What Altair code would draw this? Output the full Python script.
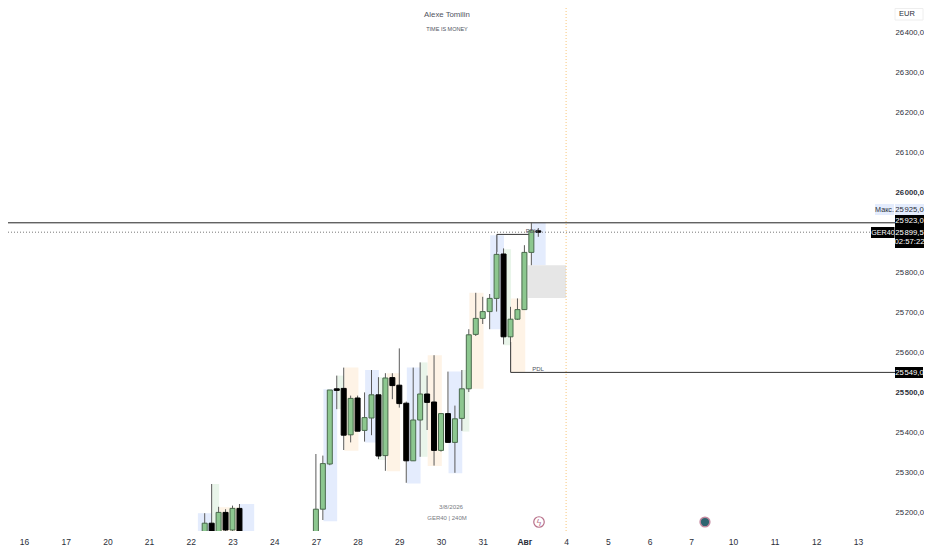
import altair as alt
import pandas as pd

FONT = "Liberation Sans"
day_labels = ["16","17","20","21","22","23","24","27","28","29","30","31","Авг","4","5","6","7","10","11","12","13"]
price_ticks = [26400,26300,26200,26100,26000,25800,25700,25600,25500,25400,25300,25200]

candle_x = [4+2/6,4+3/6,4+4/6,4+5/6,5,5+1/6] + [7+k/6 for k in range(33)]
opens = [25130,25172,25130,25199,25155,25209,25130,25207,25320,25508,25509,25393,25485,25404,25435,25493,25341,
         25536,25517,25472,25328,25430,25495,25475,25354,25446,25374,25434,25508,25644,25684,25701,25734,25845,25638,25682,25706,25849,25903]
closes = [25172,25120,25199,25155,25209,25130,25207,25321,25505,25504,25392,25484,25402,25436,25493,25340,25535,
          25516,25471,25328,25430,25495,25474,25354,25446,25374,25433,25508,25643,25684,25701,25734,25844,25638,25682,25706,25849,25903,25899.5]
highs = [25197,25270,25213,25207,25216,25220,25345,25341,25505,25541,25561,25491,25491,25499,25555,25537,25547,
         25547,25609,25476,25561,25574,25541,25592,25447,25551,25466,25555,25657,25748,25738,25745,25850,25859,25713,25734,25867,25925,25910]
lows = [25100,25100,25110,25140,25145,25120,25100,25180,25317,25457,25355,25374,25402,25376,25392,25332,25303,
        25482,25461,25273,25328,25338,25405,25316,25351,25374,25298,25403,25500,25640,25670,25657,25701,25619,25625,25680,25706,25817,25888]

zone_x0 = [4.17,4.51,4.68,5.18,7.18,7.51,7.68,8.18,8.51,8.70,9.18,9.51,9.68,10.18,10.51,10.68,11.18,11.51,11.68,12.18,12.09]
zone_x1 = [4.51,4.68,5.18,5.52,7.51,7.68,8.02,8.51,8.68,9.02,9.51,9.68,10.02,10.51,10.68,11.02,11.51,11.68,12.02,12.51,13.0]
zone_top = [25197,25270,25212,25220,25507,25541,25561,25555,25537,25547,25561,25574,25592,25551,25555,25748,25892,25857,25734,25923,25817]
zone_bot = [25100,25100,25100,25100,25177,25457,25353,25374,25330,25302,25271,25338,25315,25297,25401,25508,25657,25617,25550,25817,25735]
zone_kind = ["b","g","o","b","b","g","o","b","g","o","b","g","o","b","g","o","b","g","o","b","z"]

W, H = 887, 523
x_scale = alt.Scale(domain=[-0.3837, 20.887], nice=False, zero=False, padding=0)
y_scale = alt.Scale(domain=[25152.5, 26460], nice=False, zero=False)
x_axis = alt.Axis(
    values=list(range(len(day_labels))), orient="bottom", domain=False, ticks=False, grid=False, title=None,
    labelExpr="["+",".join(f"'{d}'" for d in day_labels)+"][datum.value]",
    labelFontSize=8.5, labelColor="#2a2e39", labelFont=FONT, labelPadding=6, labelFlush=False, labelOverlap=False,
    labelFontWeight={"condition":{"test":"datum.value==12","value":"bold"},"value":"normal"})
y_axis = alt.Axis(
    values=price_ticks, orient="right", domain=False, ticks=False, grid=False, title=None,
    labelExpr="slice(toString(datum.value),0,2)+'\u200a'+slice(toString(datum.value),2)+',0'",
    labelFontSize=7.7, labelColor="#2a2e39", labelFont=FONT, labelPadding=0, labelFlush=False, labelOverlap=False,
    labelFontWeight={"condition":{"test":"datum.value==26000||datum.value==25500","value":"bold"},"value":"normal"})

def X(f="x"):
    return alt.X(f+":Q", scale=x_scale, axis=x_axis)
def Y(f="y"):
    return alt.Y(f+":Q", scale=y_scale, axis=y_axis)

df = pd.DataFrame({"x":candle_x,"o":opens,"c":closes,"h":highs,"l":lows})
df["dir"] = ["up" if c>=o else "down" for o,c in zip(opens,closes)]
df["top"] = df[["o","c"]].max(axis=1)
df["bot"] = df[["o","c"]].min(axis=1)
zones = pd.DataFrame({"x":zone_x0,"x2":zone_x1,"y":zone_top,"y2":zone_bot,"k":zone_kind})

zone_layer = alt.Chart(zones).mark_rect(clip=True).encode(
    x=X(), x2="x2:Q", y=Y(), y2="y2:Q",
    color=alt.Color("k:N", legend=None, scale=alt.Scale(domain=["b","g","o","z"],
        range=["#e4ecfd","#e9f5ea","#fef3e6","#e6e6e6"])))

vline = alt.Chart(pd.DataFrame({"x":[13.0]})).mark_rule(color="#f9c77a", strokeDash=[1,2], strokeWidth=1).encode(x=X())

line_hi = alt.Chart(pd.DataFrame({"y":[25923]})).mark_rule(color="#222", strokeWidth=1).encode(y=Y(), x=alt.value(0), x2=alt.value(W))
line_cur = alt.Chart(pd.DataFrame({"y":[25899.5]})).mark_rule(color="#777", strokeDash=[1,2], strokeWidth=1).encode(y=Y(), x=alt.value(0), x2=alt.value(W))

pdl_h = alt.Chart(pd.DataFrame({"x":[11.67],"x2":[20.887],"y":[25549]})).mark_rule(color="#333", strokeWidth=1).encode(x=X(), x2="x2:Q", y=Y())
pdl_v = alt.Chart(pd.DataFrame({"x":[11.67],"y":[25625],"y2":[25549]})).mark_rule(color="#333", strokeWidth=1).encode(x=X(), y=Y(), y2="y2:Q")
pdh_h = alt.Chart(pd.DataFrame({"x":[11.34],"x2":[12.17],"y":[25894]})).mark_rule(color="#333", strokeWidth=1).encode(x=X(), x2="x2:Q", y=Y())
pdh_v = alt.Chart(pd.DataFrame({"x":[11.34],"y":[25894],"y2":[25850]})).mark_rule(color="#333", strokeWidth=1).encode(x=X(), y=Y(), y2="y2:Q")

wicks = alt.Chart(df).mark_rule(clip=True, color="#5a5a5a", strokeWidth=1).encode(x=X(), y=Y("h"), y2="l:Q")
bodies = alt.Chart(df).mark_bar(clip=True, size=5, strokeWidth=1).encode(
    x=X(), y=Y("top"), y2="bot:Q",
    color=alt.Color("dir:N", legend=None, scale=alt.Scale(domain=["up","down"], range=["#8cc78f","#000000"])),
    stroke=alt.Stroke("dir:N", legend=None, scale=alt.Scale(domain=["up","down"], range=["#4a6a4d","#000000"])))

def px(x, y, text, size=8, color="#50535e", weight="normal", align="center"):
    return alt.Chart(pd.DataFrame({"t":[text]})).mark_text(fontSize=size, color=color, font=FONT,
        fontWeight=weight, align=align, baseline="middle").encode(
        x=alt.value(x-8), y=alt.value(y-8), text="t:N")

def box(x0, x1, y0, y1, fill, stroke=None):
    kw = {"stroke": stroke} if stroke else {}
    return alt.Chart(pd.DataFrame({"a":[0]})).mark_rect(color=fill, clip=False, **kw).encode(
        x=alt.value(x0-8), x2=alt.value(x1-8), y=alt.value(y0-8), y2=alt.value(y1-8))

WHITE = "#ffffff"
TX = 909.5
tags = [
    box(875,894,204,215,"#e4ecfd"), box(895,924,204,215,"#e4ecfd"),
    px(884.5,209.5,"Макс.",7.2,"#2a2e39"), px(TX,209.5,"25\u200a925,0",7.7,"#2a2e39"),
    box(895,924,215,227,"#000000"), px(TX,221,"25\u200a923,0",7.7,WHITE),
    box(895,924,227,248,"#000000"), px(TX,232.5,"25\u200a899,5",7.7,WHITE), px(TX,242,"02:57:22",7.7,WHITE),
    box(871,894.5,227,238,"#000000"), px(883,232.5,"GER40",7.2,WHITE),
    box(895,923,367,378,"#000000"), px(TX,372.5,"25\u200a549,0",7.7,WHITE),
    box(895,923,8.5,20,"#ffffff","#eeeeee"), px(907,14,"EUR",7.5,"#2a2e39"),
    px(447,15,"Alexe Tomilin",7.8,"#50535e"), px(447,29,"TIME IS MONEY",5.5,"#50535e"),
    px(451,507,"3/8/2026",6.2,"#777a82"), px(447,518,"GER40 | 240M",6,"#777a82"),
    px(538,368.5,"PDL",6,"#50535e"), px(532,230.5,"PDH",6,"#50535e"),
]

icon1 = alt.Chart(pd.DataFrame({"x":[12.35],"y":[25175]})).mark_point(shape="circle", size=110, filled=True, fill="#ffffff", stroke="#b8708a", strokeWidth=1.2, opacity=1, clip=False).encode(x=X(), y=Y())
icon2 = alt.Chart(pd.DataFrame({"x":[16.33],"y":[25175]})).mark_point(shape="circle", size=95, filled=True, fill="#2f6470", stroke="#c48aa0", strokeWidth=1.5, opacity=1, clip=False).encode(x=X(), y=Y())
bolt = alt.Chart(pd.DataFrame({"t":["ϟ"]})).mark_text(fontSize=9, color="#b8708a", font="DejaVu Sans", baseline="middle").encode(x=alt.value(531), y=alt.value(514.5), text="t:N")

chart = alt.layer(zone_layer, vline, line_hi, line_cur, pdl_h, pdl_v, pdh_h, pdh_v, wicks, bodies,
                  icon1, bolt, icon2, *tags).resolve_scale(color="independent", stroke="independent").properties(
    width=W, height=H, autosize=alt.AutoSizeParams(type="none"),
    padding={"left":0,"top":0,"right":29,"bottom":17}, background="white"
).configure_view(stroke=None)

chart.save("out.html", embed_options={"renderer": "svg", "actions": False})
